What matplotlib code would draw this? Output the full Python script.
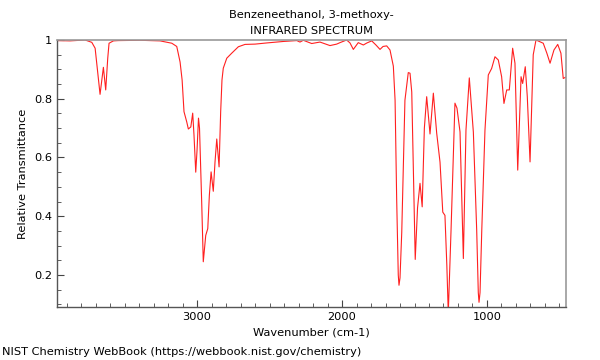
import matplotlib
matplotlib.use('Agg')
import matplotlib.pyplot as plt
from matplotlib.ticker import MultipleLocator, FuncFormatter

# 读图估计的光谱点 (波数 cm-1, 相对透射率)
wavenumber = [3966, 3876, 3772, 3726, 3703, 3688, 3669, 3646, 3630, 3616,
              3607, 3577, 3543, 3393, 3255, 3174, 3140, 3117, 3103, 3090,
              3071, 3060, 3043, 3030, 3021, 3009, 3000, 2990, 2983, 2968,
              2957, 2940, 2926, 2915, 2903, 2888, 2876, 2864, 2848, 2837,
              2828, 2819, 2795, 2761, 2715, 2669, 2600, 2519, 2405, 2312,
              2290, 2267, 2209, 2152, 2083, 2037, 2014, 1968, 1945, 1922,
              1888, 1853, 1828, 1795, 1766, 1738, 1717, 1692, 1669, 1646,
              1634, 1623, 1612, 1607, 1600, 1588, 1566, 1543, 1531, 1519,
              1508, 1495, 1479, 1462, 1447, 1432, 1416, 1393, 1370, 1347,
              1324, 1305, 1290, 1277, 1267, 1248, 1221, 1207, 1186, 1163,
              1145, 1122, 1094, 1071, 1060, 1055, 1048, 1036, 1014, 991,
              968, 945, 922, 899, 883, 864, 846, 823, 807, 788,
              765, 754, 736, 722, 703, 681, 662, 634, 612, 587,
              565, 538, 512, 490, 474, 455]
transmittance = [0.998, 0.997, 1.0, 0.992, 0.972, 0.904, 0.815, 0.907, 0.830, 0.938,
                 0.989, 0.997, 0.998, 0.999, 0.997, 0.989, 0.978, 0.925, 0.864, 0.756,
                 0.721, 0.697, 0.704, 0.751, 0.676, 0.550, 0.625, 0.734, 0.700, 0.449,
                 0.245, 0.335, 0.358, 0.472, 0.551, 0.485, 0.585, 0.663, 0.568, 0.756,
                 0.864, 0.904, 0.938, 0.955, 0.977, 0.985, 0.986, 0.990, 0.995, 0.998,
                 0.993, 0.999, 0.988, 0.993, 0.981, 0.986, 0.991, 1.0, 0.990, 0.968,
                 0.991, 0.983, 0.990, 0.997, 0.983, 0.968, 0.978, 0.980, 0.966, 0.911,
                 0.795, 0.458, 0.200, 0.165, 0.190, 0.345, 0.795, 0.889, 0.887, 0.823,
                 0.557, 0.253, 0.429, 0.512, 0.432, 0.700, 0.807, 0.680, 0.819, 0.683,
                 0.584, 0.414, 0.403, 0.233, 0.070, 0.352, 0.785, 0.768, 0.687, 0.256,
                 0.693, 0.871, 0.686, 0.352, 0.140, 0.107, 0.140, 0.352, 0.693, 0.881,
                 0.903, 0.943, 0.932, 0.875, 0.784, 0.830, 0.830, 0.972, 0.921, 0.557,
                 0.875, 0.852, 0.909, 0.807, 0.585, 0.950, 1.0, 0.994, 0.989, 0.955,
                 0.921, 0.966, 0.985, 0.955, 0.869, 0.874]

title = 'Benzeneethanol, 3-methoxy-\nINFRARED SPECTRUM'
footer = 'NIST Chemistry WebBook (https://webbook.nist.gov/chemistry)'

plt.rcParams['font.family'] = ['DejaVu Sans']
plt.rcParams['font.size'] = 8

fig = plt.figure(figsize=(6, 3.6), dpi=100)
ax = fig.add_axes([57 / 600, 1 - 307 / 360, (566 - 57) / 600, (307 - 40) / 360])

ax.plot(wavenumber, transmittance, color='#ff2020', linewidth=0.8)

ax.set_xlim(3966, 455)
ax.set_ylim(0.091, 1.0)

ax.xaxis.set_major_locator(MultipleLocator(1000))
ax.xaxis.set_minor_locator(MultipleLocator(100))
ax.yaxis.set_major_locator(MultipleLocator(0.2))
ax.yaxis.set_minor_locator(MultipleLocator(0.05))
ax.yaxis.set_major_formatter(FuncFormatter(lambda v, p: '%g' % round(v, 2)))

ax.tick_params(which='both', direction='in', top=False, right=False,
               color='#444444', labelsize=8.2)
ax.tick_params(which='major', length=5, width=0.8)
ax.tick_params(which='minor', length=3, width=0.6)

for side in ['top', 'right']:
    ax.spines[side].set_color('#999999')
    ax.spines[side].set_linewidth(1.2)
for side in ['left', 'bottom']:
    ax.spines[side].set_color('#555555')
    ax.spines[side].set_linewidth(1.0)

ax.set_xlabel('Wavenumber (cm-1)', fontsize=8.2, labelpad=4)
ax.set_ylabel('Relative Transmittance', fontsize=8.2)
ax.set_title(title, fontsize=8.2, linespacing=1.85, pad=4)

fig.text(2 / 600, 1 - 352 / 360, footer, fontsize=8.2, va='center', ha='left')

fig.savefig('out.png', dpi=100)
